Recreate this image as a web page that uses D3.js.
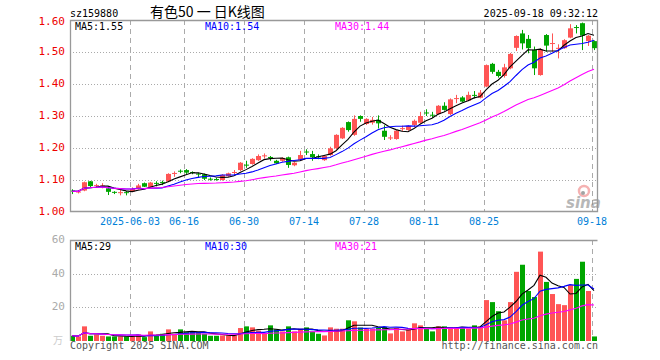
<!DOCTYPE html>
<html>
<head>
<meta charset="utf-8">
<script src="https://cdn.jsdelivr.net/npm/d3@7"></script>
<style>
  body { margin: 0; background: #fff; }
  text { font-family: "DejaVu Sans Mono", monospace; font-size: 10px; }
</style>
</head>
<body>
<svg id="chart" width="660" height="360"></svg>
<script>
// trading days, 2025
const dates = [
  "05-19","05-20","05-21","05-22","05-23","05-26","05-27","05-28","05-29","05-30",
  "06-03","06-04","06-05","06-06","06-09","06-10","06-11","06-12","06-13",
  "06-16","06-17","06-18","06-19","06-20","06-23","06-24","06-25","06-26","06-27",
  "06-30","07-01","07-02","07-03","07-04","07-07","07-08","07-09","07-10","07-11",
  "07-14","07-15","07-16","07-17","07-18","07-21","07-22","07-23","07-24","07-25",
  "07-28","07-29","07-30","07-31","08-01","08-04","08-05","08-06","08-07","08-08",
  "08-11","08-12","08-13","08-14","08-15","08-18","08-19","08-20","08-21","08-22",
  "08-25","08-26","08-27","08-28","08-29","09-01","09-02","09-03","09-04","09-05",
  "09-08","09-09","09-10","09-11","09-12","09-15","09-16","09-17","09-18"
];

const open = [
  1.067,1.063,1.067,1.096,1.082,1.082,1.074,1.063,1.061,1.062,
  1.064,1.072,1.090,1.077,1.091,1.094,1.095,1.120,1.129,1.131,
  1.125,1.120,1.118,1.104,1.103,1.100,1.112,1.123,1.131,1.148,
  1.150,1.162,1.175,1.172,1.160,1.160,1.171,1.146,1.162,1.189,
  1.181,1.174,1.162,1.178,1.199,1.230,1.281,1.241,1.300,1.275,
  1.279,1.288,1.254,1.231,1.228,1.260,1.256,1.272,1.279,1.311,
  1.304,1.306,1.332,1.306,1.354,1.358,1.348,1.366,1.357,1.392,
  1.463,1.438,1.425,1.449,1.513,1.558,1.541,1.507,1.428,1.553,
  1.526,1.511,1.512,1.545,1.578,1.590,1.534,1.534
];
const high = [
  1.071,1.067,1.095,1.097,1.088,1.090,1.079,1.065,1.069,1.066,
  1.077,1.088,1.092,1.094,1.096,1.098,1.121,1.127,1.133,1.134,
  1.127,1.123,1.120,1.108,1.107,1.118,1.123,1.131,1.156,1.160,
  1.168,1.180,1.183,1.175,1.163,1.171,1.173,1.156,1.191,1.196,
  1.191,1.180,1.177,1.204,1.243,1.265,1.283,1.302,1.302,1.293,
  1.297,1.302,1.271,1.240,1.256,1.270,1.271,1.289,1.313,1.321,
  1.313,1.334,1.343,1.355,1.366,1.362,1.376,1.378,1.381,1.461,
  1.466,1.444,1.463,1.497,1.552,1.569,1.553,1.517,1.512,1.556,
  1.558,1.524,1.540,1.587,1.584,1.592,1.553,1.536
];
const low = [
  1.056,1.058,1.065,1.077,1.075,1.074,1.053,1.056,1.052,1.052,
  1.062,1.070,1.078,1.075,1.080,1.084,1.093,1.110,1.121,1.119,
  1.118,1.108,1.100,1.098,1.098,1.098,1.110,1.118,1.128,1.138,
  1.148,1.160,1.167,1.160,1.150,1.157,1.138,1.143,1.160,1.178,
  1.160,1.165,1.160,1.176,1.197,1.228,1.251,1.238,1.282,1.272,
  1.273,1.261,1.225,1.225,1.226,1.253,1.254,1.264,1.277,1.300,
  1.295,1.304,1.317,1.303,1.340,1.343,1.346,1.355,1.355,1.390,
  1.432,1.420,1.420,1.446,1.503,1.508,1.496,1.428,1.426,1.501,
  1.501,1.480,1.510,1.543,1.558,1.506,1.519,1.506
];
const close = [
  1.065,1.064,1.093,1.081,1.084,1.083,1.063,1.062,1.062,1.060,
  1.072,1.083,1.079,1.092,1.089,1.092,1.119,1.122,1.127,1.123,
  1.122,1.118,1.104,1.102,1.101,1.116,1.121,1.125,1.154,1.146,
  1.166,1.175,1.177,1.170,1.152,1.169,1.147,1.154,1.178,1.187,
  1.171,1.172,1.175,1.199,1.241,1.263,1.256,1.291,1.291,1.291,
  1.288,1.277,1.235,1.233,1.254,1.262,1.269,1.285,1.300,1.309,
  1.302,1.332,1.319,1.352,1.356,1.345,1.366,1.364,1.373,1.459,
  1.438,1.425,1.452,1.494,1.550,1.527,1.512,1.449,1.507,1.520,
  1.528,1.513,1.537,1.574,1.575,1.551,1.551,1.512
];
// volume, 万手
const volume = [
  3.1,2.7,8.7,3.1,3.9,3.1,2.7,2.7,2.7,2.7,
  2.7,3.9,2.3,5.7,3.1,4.3,6.9,4.3,6.9,5.3,
  5.3,5.3,4.3,3.1,3.1,3.3,3.3,3.3,7.7,8.7,
  8.1,6.1,4.3,9.3,6.9,5.7,8.7,5.7,7.3,8.1,
  5.7,4.3,3.3,8.1,7.3,7.3,12.3,11.7,8.0,7.3,
  7.3,8.0,8.3,4.5,7.7,5.7,6.7,10.5,9.3,7.3,
  5.7,8.7,8.7,8.1,8.1,8.1,7.3,9.3,8.7,24.3,
  23.1,17.7,12.3,23.1,41.1,45.3,29.7,26.1,53.1,35.1,
  27.9,21.9,21.3,33.3,36.9,47.1,29.7,2.7
];

const tickDates = ["06-03","06-16","06-30","07-14","07-28","08-11","08-25","09-18"];
const tickLabels = ["2025-06-03","06-16","06-30","07-14","07-28","08-11","08-25","09-18"];
const priceTicks = [1.00, 1.10, 1.20, 1.30, 1.40, 1.50, 1.60];
const volTicks = [20, 40, 60];
const maPeriods = [5, 10, 30];
const priceMaValues = ["1.55", "1.54", "1.44"];
const volMaValues = ["29", "30", "21"];

const up = "#ff5555", down = "#00a600";
const maColors = ["#000000", "#0000ff", "#ff00ff"];
const gridColor = "#aaaaaa";

const svg = d3.select("#chart");
svg.append("rect").attr("width", 660).attr("height", 360).attr("fill", "#fff");

const x = d3.scaleBand().domain(dates).range([69, 597]);
const yP = d3.scaleLinear().domain([1.0, 1.6]).range([212, 20]);
const yV = d3.scaleLinear().domain([0, 60]).range([341, 240]);

const movingAvg = (arr, n) => arr.map((_, i) => {
  const s = arr.slice(Math.max(0, i - n + 1), i + 1);
  return d3.mean(s);
});

// ---------- header ----------
svg.append("text").attr("x", 70).attr("y", 16.5).attr("fill", "#000").text("sz159880");
svg.append("text").attr("x", 150).attr("y", 16.5)
  .style("font-family", "'Noto Sans CJK SC', sans-serif").style("font-size", "14px")
  .attr("fill", "#000").text("有色50 一 日K线图");
svg.append("text").attr("x", 598).attr("y", 16.5).attr("text-anchor", "end")
  .attr("fill", "#000").text("2025-09-18 09:32:12");

// ---------- price panel grid ----------
const gP = svg.append("g");
gP.selectAll(".hg").data(priceTicks.slice(1, -1)).join("line")
  .attr("x1", 70).attr("x2", 598)
  .attr("y1", d => Math.round(yP(d)) + 0.5).attr("y2", d => Math.round(yP(d)) + 0.5)
  .attr("stroke", gridColor).attr("stroke-dasharray", "1,2");
gP.selectAll(".vg").data(tickDates).join("line")
  .attr("x1", d => x(d) + 1.5).attr("x2", d => x(d) + 1.5)
  .attr("y1", 20).attr("y2", 212)
  .attr("stroke", gridColor).attr("stroke-dasharray", "5,4");

gP.selectAll(".yl").data(priceTicks).join("text")
  .attr("x", 65).attr("y", d => d === 1.6 ? yP(d) + 2 : yP(d))
  .attr("text-anchor", "end").attr("dominant-baseline", "middle")
  .attr("fill", "#ee0000").style("font-size", "11px")
  .text(d => d.toFixed(2));

gP.selectAll(".xl").data(tickDates).join("text")
  .attr("x", d => x(d) + 1).attr("y", 225)
  .attr("text-anchor", "middle").attr("fill", "#0080d8")
  .text((d, i) => tickLabels[i]);

// sina watermark
const wm = svg.append("g").attr("opacity", 0.6);
wm.append("circle").attr("cx", 584).attr("cy", 191).attr("r", 5)
  .attr("fill", "none").attr("stroke", "#f08080").attr("stroke-width", 2.5);
wm.append("circle").attr("cx", 583).attr("cy", 193).attr("r", 2).attr("fill", "#666");
wm.append("text").attr("x", 566).attr("y", 208)
  .style("font-family", "'DejaVu Sans', sans-serif").style("font-size", "15px")
  .style("font-weight", "bold").style("font-style", "italic")
  .attr("fill", "#888").text("sina");

// ---------- candles ----------
const idx = d3.range(dates.length);
const gC = svg.append("g");
gC.selectAll(".wick").data(idx).join("line")
  .attr("x1", i => x(dates[i]) + 3.5).attr("x2", i => x(dates[i]) + 3.5)
  .attr("y1", i => yP(high[i])).attr("y2", i => yP(low[i]))
  .attr("stroke", i => close[i] >= open[i] ? up : down);
gC.selectAll(".body").data(idx).join("rect")
  .attr("x", i => x(dates[i]) + 1).attr("width", 5)
  .attr("y", i => yP(Math.max(open[i], close[i])))
  .attr("height", i => Math.max(1, Math.abs(yP(open[i]) - yP(close[i]))))
  .attr("fill", i => close[i] >= open[i] ? up : down);

// price MAs
maPeriods.forEach((n, k) => {
  const ma = movingAvg(close, n);
  gC.append("path").datum(idx)
    .attr("fill", "none").attr("stroke", maColors[k]).attr("stroke-width", 1.1)
    .attr("d", d3.line().x(i => x(dates[i]) + 3).y(i => yP(ma[i])));
});

// price border
svg.append("path").attr("d", "M70.5,20.5H597.5V211.5H70.5Z")
  .attr("fill", "none").attr("stroke", "#999").attr("stroke-width", 1.3);

// price MA labels
[75, 205, 335].forEach((px, k) => {
  svg.append("text").attr("x", px).attr("y", 30).attr("fill", maColors[k])
    .text(`MA${maPeriods[k]}:${priceMaValues[k]}`);
});

// ---------- volume panel ----------
const gV = svg.append("g");
gV.selectAll(".hg").data(volTicks.slice(0, -1)).join("line")
  .attr("x1", 70).attr("x2", 598)
  .attr("y1", d => Math.round(yV(d)) + 0.5).attr("y2", d => Math.round(yV(d)) + 0.5)
  .attr("stroke", gridColor).attr("stroke-dasharray", "1,2");
gV.selectAll(".vg").data(tickDates).join("line")
  .attr("x1", d => x(d) + 1.5).attr("x2", d => x(d) + 1.5)
  .attr("y1", 240).attr("y2", 341)
  .attr("stroke", gridColor).attr("stroke-dasharray", "5,4");
gV.selectAll(".yl").data(volTicks).join("text")
  .attr("x", 65).attr("y", d => yV(d))
  .attr("text-anchor", "end").attr("dominant-baseline", "middle")
  .attr("fill", "#aaa").style("font-size", "11px")
  .text(d => d);
gV.append("text").attr("x", 63).attr("y", 344).attr("text-anchor", "end")
  .style("font-family", "'Noto Sans CJK SC', sans-serif").style("font-size", "10px")
  .attr("fill", "#ccc").text("万");

gV.selectAll(".vb").data(idx).join("rect")
  .attr("x", i => x(dates[i]) + 1).attr("width", 5)
  .attr("y", i => yV(volume[i]))
  .attr("height", i => yV(0) - yV(volume[i]))
  .attr("fill", i => close[i] >= open[i] ? up : down);

maPeriods.forEach((n, k) => {
  const ma = movingAvg(volume, n);
  gV.append("path").datum(idx)
    .attr("fill", "none").attr("stroke", maColors[k]).attr("stroke-width", 1.1)
    .attr("d", d3.line().x(i => x(dates[i]) + 3).y(i => yV(ma[i])));
});

svg.append("path").attr("d", "M70.5,341V240.5H597.5")
  .attr("fill", "none").attr("stroke", "#999").attr("stroke-width", 1.3);

[75, 205, 335].forEach((px, k) => {
  svg.append("text").attr("x", px).attr("y", 249.5).attr("fill", maColors[k])
    .text(`MA${maPeriods[k]}:${volMaValues[k]}`);
});

// footer
svg.append("text").attr("x", 70).attr("y", 349).attr("fill", "#555").text("Copyright 2025 SINA.COM");
svg.append("text").attr("x", 598).attr("y", 349).attr("text-anchor", "end")
  .attr("fill", "#555").text("http://finance.sina.com.cn");
</script>
</body>
</html>
